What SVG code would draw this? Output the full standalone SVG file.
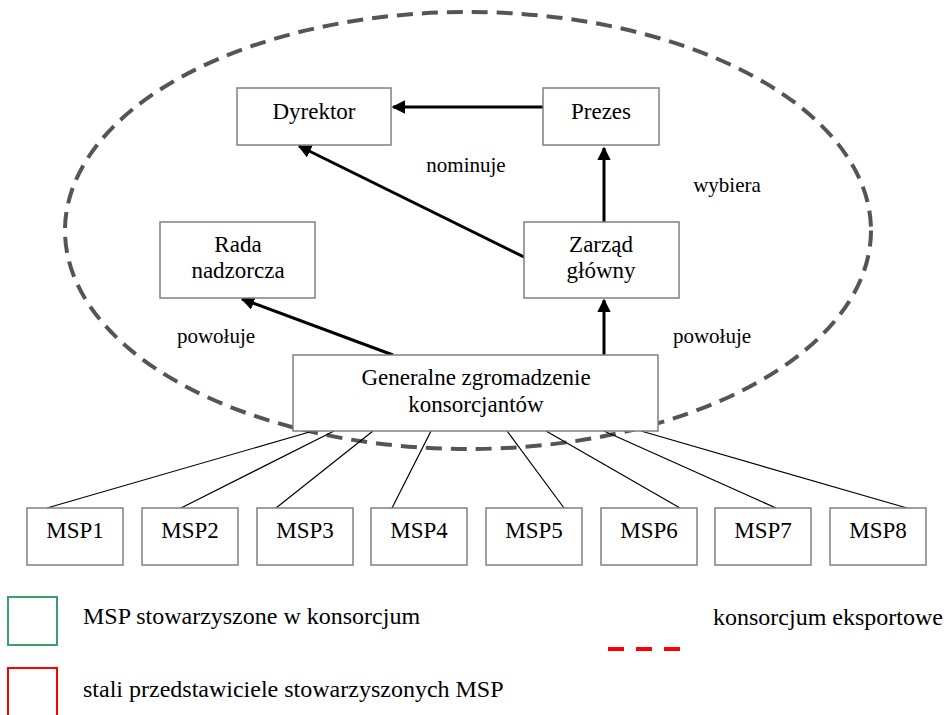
<svg xmlns="http://www.w3.org/2000/svg" width="944" height="715" viewBox="0 0 944 715">
<defs>
<style>
.box{fill:#fff;stroke:#808080;stroke-width:1.5}
.t{font-size:23px;fill:#000;text-anchor:middle}
.lbl{font-size:21px;fill:#000;text-anchor:middle}
.lg{font-size:24px;fill:#000}
.arr{stroke:#000;stroke-width:3;fill:none;marker-end:url(#ah)}
.thin{stroke:#000;stroke-width:1.2;fill:none}
</style>
<marker id="ah" viewBox="0 0 10 10" refX="9" refY="5" markerWidth="4.5" markerHeight="4.5" orient="auto" markerUnits="strokeWidth">
<path d="M0,0 L10,5 L0,10 z" fill="#000"/>
</marker>
</defs>
<rect width="944" height="715" fill="#fff"/>
<ellipse id="consortium" cx="468" cy="230.5" rx="403" ry="218.5" fill="none" stroke="#555" stroke-width="4" stroke-dasharray="16,9"/>
<g id="connectors">
<line class="thin" x1="313" y1="431" x2="47" y2="508"/>
<line class="thin" x1="334" y1="431" x2="181" y2="508"/>
<line class="thin" x1="373" y1="431" x2="276" y2="508"/>
<line class="thin" x1="431" y1="431" x2="392" y2="508"/>
<line class="thin" x1="507" y1="431" x2="564" y2="508"/>
<line class="thin" x1="546" y1="431" x2="680" y2="508"/>
<line class="thin" x1="604" y1="431" x2="776" y2="508"/>
<line class="thin" x1="641" y1="431" x2="907" y2="508"/>
<line class="arr" x1="543" y1="107" x2="393" y2="107"/>
<line class="arr" x1="604" y1="222" x2="604" y2="148"/>
<line class="arr" x1="526" y1="258" x2="299" y2="146"/>
<line class="arr" x1="393" y1="355" x2="242" y2="299"/>
<line class="arr" x1="604" y1="355" x2="604" y2="300"/>
</g>
<g font-family="'Liberation Serif', Tinos, 'Times New Roman', 'DejaVu Serif', serif">
<g id="dyrektor"><rect class="box" x="237" y="88" width="154" height="57"/><text class="t" x="314" y="119">Dyrektor</text></g>
<g id="prezes"><rect class="box" x="543" y="88" width="116" height="57"/><text class="t" x="601" y="119">Prezes</text></g>
<g id="rada"><rect class="box" x="160" y="222" width="155" height="76"/><text class="t" x="238" y="252">Rada</text><text class="t" x="238" y="278">nadzorcza</text></g>
<g id="zarzad"><rect class="box" x="524" y="222" width="155" height="76"/><text class="t" x="601" y="252">Zarząd</text><text class="t" x="601" y="278">główny</text></g>
<g id="generalne"><rect class="box" x="293" y="355" width="365" height="76"/><text class="t" x="476" y="385">Generalne zgromadzenie</text><text class="t" x="476" y="412">konsorcjantów</text></g>
<g id="msp1"><rect class="box" x="27" y="508" width="96" height="57"/><text class="t" x="75" y="538">MSP1</text></g>
<g id="msp2"><rect class="box" x="142" y="508" width="96" height="57"/><text class="t" x="190" y="538">MSP2</text></g>
<g id="msp3"><rect class="box" x="257" y="508" width="96" height="57"/><text class="t" x="305" y="538">MSP3</text></g>
<g id="msp4"><rect class="box" x="371" y="508" width="96" height="57"/><text class="t" x="419" y="538">MSP4</text></g>
<g id="msp5"><rect class="box" x="486" y="508" width="96" height="57"/><text class="t" x="534" y="538">MSP5</text></g>
<g id="msp6"><rect class="box" x="601" y="508" width="96" height="57"/><text class="t" x="649" y="538">MSP6</text></g>
<g id="msp7"><rect class="box" x="715" y="508" width="96" height="57"/><text class="t" x="763" y="538">MSP7</text></g>
<g id="msp8"><rect class="box" x="830" y="508" width="96" height="57"/><text class="t" x="878" y="538">MSP8</text></g>
<g id="labels">
<text class="lbl" x="466" y="172">nominuje</text>
<text class="lbl" x="727" y="192">wybiera</text>
<text class="lbl" x="216" y="343">powołuje</text>
<text class="lbl" x="712" y="343">powołuje</text>
</g>
<g id="legend">
<rect x="8" y="597" width="49" height="48" fill="none" stroke="#3c9e6a" stroke-width="2"/>
<text class="lg" x="83" y="624">MSP stowarzyszone w konsorcjum</text>
<rect x="8" y="668" width="49" height="60" fill="none" stroke="#ff0000" stroke-width="2"/>
<text class="lg" x="83" y="697">stali przedstawiciele stowarzyszonych MSP</text>
<line x1="608" y1="649" x2="681" y2="649" stroke="#ff0000" stroke-width="4" stroke-dasharray="16,12"/>
<text class="lg" x="713" y="625">konsorcjum eksportowe</text>
</g>
</g>
</svg>
